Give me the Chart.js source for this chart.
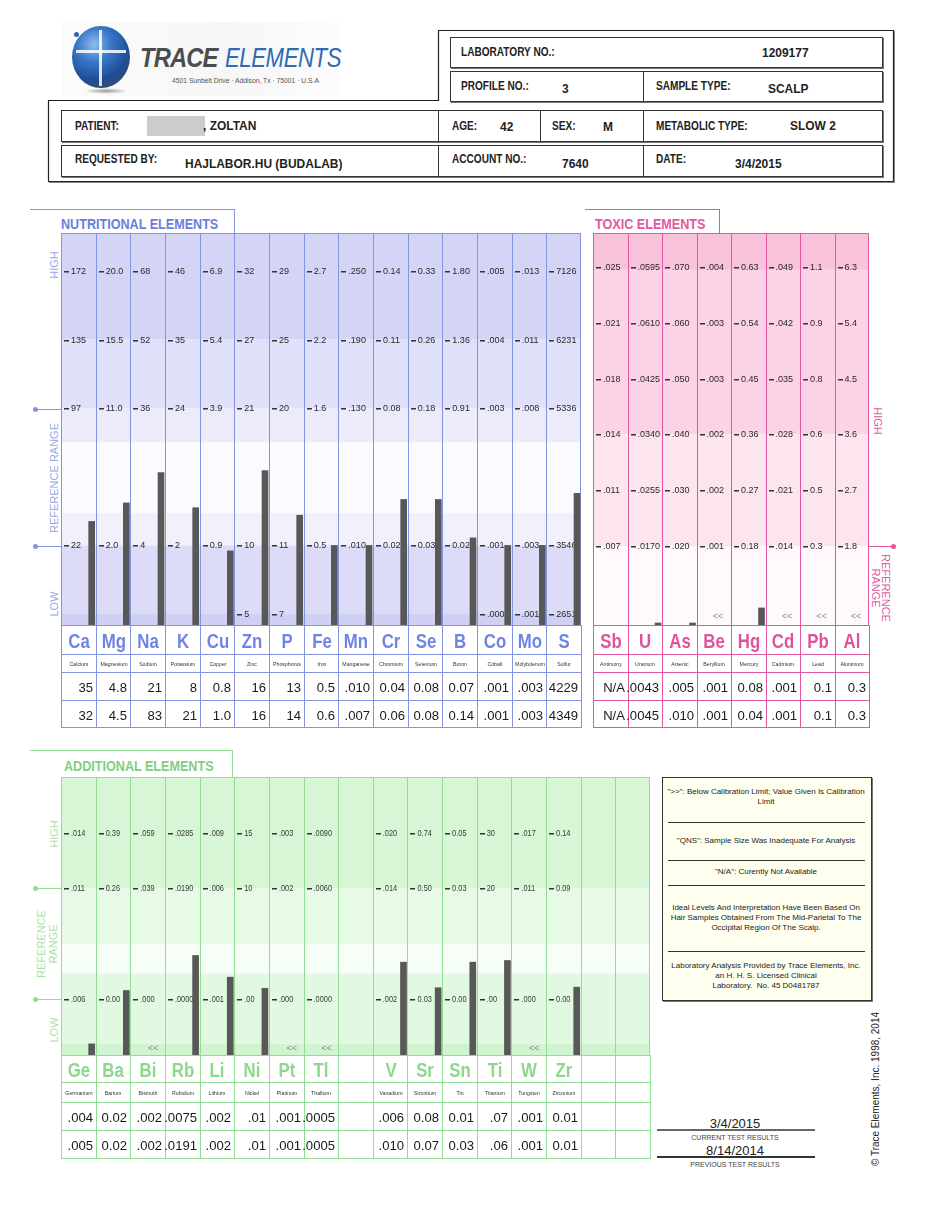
<!DOCTYPE html>
<html><head><meta charset="utf-8">
<script src="https://cdn.jsdelivr.net/npm/chart.js@4.4.1/dist/chart.umd.min.js"></script>
<style>
html,body{margin:0;padding:0;background:#fff}
body{width:946px;height:1224px;position:relative;overflow:hidden;font-family:"Liberation Sans",Arial,Helvetica,sans-serif;color:#222}
.a{position:absolute;white-space:nowrap}
.box{position:absolute;border:1px solid #333;box-shadow:1px 1px 0 #777;background:#fff}
canvas{position:absolute;display:block}
</style></head><body>
<svg class="a" style="left:0;top:0" width="946" height="200">
  <polygon points="48.5,100.5 438.5,100.5 438.5,30.5 893.5,30.5 893.5,181.5 48.5,181.5" fill="none" stroke="#222" stroke-width="1.2"/>
  <polyline points="894.5,31 894.5,182.5 49,182.5" fill="none" stroke="#888" stroke-width="1"/>
</svg>
<canvas id="cNut" width="520" height="392" style="left:61px;top:233px"></canvas>
<canvas id="cTox" width="276" height="392" style="left:593px;top:233px"></canvas>
<canvas id="cAdd" width="589" height="278" style="left:61px;top:777px"></canvas>
<script>
// ---------------- DATA ----------------
const nutriSymbols = ['Ca','Mg','Na','K','Cu','Zn','P','Fe','Mn','Cr','Se','B','Co','Mo','S'];
const nutriNames = ['Calcium','Magnesium','Sodium','Potassium','Copper','Zinc','Phosphorus','Iron','Manganese','Chromium','Selenium','Boron','Cobalt','Molybdenum','Sulfur'];
const nutriCurrent = ['35','4.8','21','8','0.8','16','13','0.5','.010','0.04','0.08','0.07','.001','.003','4229'];
const nutriPrevious = ['32','4.5','83','21','1.0','16','14','0.6','.007','0.06','0.08','0.14','.001','.003','4349'];
const nutriTick5 = ['172','20.0','68','46','6.9','32','29','2.7','.250','0.14','0.33','1.80','.005','.013','7126'];
const nutriTick4 = ['135','15.5','52','35','5.4','27','25','2.2','.190','0.11','0.26','1.36','.004','.011','6231'];
const nutriTick3 = ['97','11.0','36','24','3.9','21','20','1.6','.130','0.08','0.18','0.91','.003','.008','5336'];
const nutriTick1 = ['22','2.0','4','2','0.9','10','11','0.5','.010','0.02','0.03','0.02','.001','.003','3546'];
const nutriTick0 = ['','','','','','5','7','','','','','','.000','.001','2651'];
const nutriBarLevel = [1.35,1.62,2.06,1.55,0.92,2.09,1.44,1.0,1.0,1.67,1.67,1.11,1.0,1.0,1.76];

const toxicSymbols = ['Sb','U','As','Be','Hg','Cd','Pb','Al'];
const toxicNames = ['Antimony','Uranium','Arsenic','Beryllium','Mercury','Cadmium','Lead','Aluminum'];
const toxicCurrent = ['N/A','.0043','.005','.001','0.08','.001','0.1','0.3'];
const toxicPrevious = ['N/A','.0045','.010','.001','0.04','.001','0.1','0.3'];
const toxicTick5 = ['.025','.0595','.070','.004','0.63','.049','1.1','6.3'];
const toxicTick4 = ['.021','.0610','.060','.003','0.54','.042','0.9','5.4'];
const toxicTick3 = ['.018','.0425','.050','.003','0.45','.035','0.8','4.5'];
const toxicTick2 = ['.014','.0340','.040','.002','0.36','.028','0.6','3.6'];
const toxicTick1 = ['.011','.0255','.030','.002','0.27','.021','0.5','2.7'];
const toxicTick0 = ['.007','.0170','.020','.001','0.18','.014','0.3','1.8'];
const toxicBarLevel = [null,-1.38,-1.38,null,-1.11,null,null,null];
const toxicBelowLimit = [false,false,false,true,false,true,true,true];

const addSymbols = ['Ge','Ba','Bi','Rb','Li','Ni','Pt','Tl','','V','Sr','Sn','Ti','W','Zr','',''];
const addNames = ['Germanium','Barium','Bismuth','Rubidium','Lithium','Nickel','Platinum','Thallium','','Vanadium','Strontium','Tin','Titanium','Tungsten','Zirconium','',''];
const addCurrent = ['.004','0.02','.002','.0075','.002','.01','.001','.0005','','.006','0.08','0.01','.07','.001','0.01','',''];
const addPrevious = ['.005','0.02','.002','.0191','.002','.01','.001','.0005','','.010','0.07','0.03','.06','.001','0.01','',''];
const addTick4 = ['.014','0.39','.059','.0285','.009','15','.003','.0090','','.020','0.74','0.05','30','.017','0.14','',''];
const addTick3 = ['.011','0.26','.039','.0190','.006','10','.002','.0060','','.014','0.50','0.03','20','.011','0.09','',''];
const addTick1 = ['.006','0.00','.000','.0000','.001','.00','.000','.0000','','.002','0.03','0.00','.00','.000','0.00','',''];
const addBarLevel = [0.2,1.16,null,1.79,1.4,1.2,null,null,null,1.67,1.21,1.67,1.7,null,1.22,null,null];
const addBelowLimit = [false,false,true,false,false,false,true,true,false,false,false,false,false,true,false,false,false];

// ---------------- HELPERS ----------------
function T(txt,x,y,css,align,sx){
  const d=document.createElement('div');d.className='a';d.textContent=txt;
  d.style.cssText=(css||'');d.style.left=x+'px';d.style.top=y+'px';
  const tx=align==='c'?'-50%':align==='r'?'-100%':'0';
  d.style.transformOrigin=align==='c'?'center center':align==='r'?'right center':'left center';
  d.style.transform='translate('+tx+',-50%) scaleX('+(sx||1)+')';document.body.appendChild(d);return d;}
function H(html,x,y,css){
  const d=document.createElement('div');d.className='a';d.innerHTML=html;
  d.style.cssText=(css||'');d.style.left=x+'px';d.style.top=y+'px';
  d.style.transform='translate(-50%,-50%)';document.body.appendChild(d);return d;}
function R(txt,x,y,deg,css){
  const d=document.createElement('div');d.className='a';d.textContent=txt;
  d.style.cssText=(css||'');d.style.left=x+'px';d.style.top=y+'px';d.style.lineHeight='1';
  d.style.transform='translate(-50%,-50%) rotate('+deg+'deg)';document.body.appendChild(d);return d;}
function L(x,y,w,h,c){const d=document.createElement('div');d.className='a';
  d.style.cssText='left:'+x+'px;top:'+y+'px;width:'+w+'px;height:'+h+'px;background:'+c;document.body.appendChild(d);return d;}
function DOT(x,y,c){const d=document.createElement('div');d.className='a';
  d.style.cssText='left:'+(x-2.5)+'px;top:'+(y-2.5)+'px;width:5px;height:5px;border-radius:50%;background:'+c;document.body.appendChild(d);}
function BOX(x,y,w,h,css){const d=document.createElement('div');d.className='box';
  d.style.cssText+='left:'+x+'px;top:'+y+'px;width:'+w+'px;height:'+h+'px;'+(css||'');document.body.appendChild(d);return d;}

const SANS='"Liberation Sans",Arial,sans-serif';
const HL='font:bold 12px '+SANS+';color:#222';
const HV='font:bold 13px '+SANS+';color:#222';

// ---------------- HEADER ----------------
const bgl=document.createElement('div');bgl.className='a';
bgl.style.cssText='left:62px;top:22px;width:278px;height:74px;background:linear-gradient(90deg,#fcfcfc,#f6f6f6 60%,#fdfdfd)';
document.body.appendChild(bgl);
const lg=document.createElement('div');lg.className='a';
lg.style.cssText='left:72px;top:26px;width:58px;height:62px;border-radius:50%;background:radial-gradient(circle at 38% 30%,#8fbdf0 0%,#3a78c8 30%,#1d4f98 62%,#3b4a66 85%,#8a8a8a 100%)';
document.body.appendChild(lg);
const lg2=document.createElement('div');lg2.className='a';
lg2.style.cssText='left:84px;top:88px;width:44px;height:6px;border-radius:50%;background:radial-gradient(ellipse,#999 0%,rgba(200,200,200,0) 70%)';
document.body.appendChild(lg2);
L(99,30,3,56,'rgba(255,255,255,0.85)');L(76,50,50,3,'rgba(255,255,255,0.85)');
DOT(76,34,'#2a64b0');
T('TRACE',140,58,'font:italic bold 27px '+SANS+';color:#4d4d4d;letter-spacing:-1px','',0.88);
T('ELEMENTS',225,58,'font:italic 27px '+SANS+';color:#2e6bb5;letter-spacing:-0.5px','',0.82);
T('4501 Sunbelt Drive · Addison, Tx · 75001 · U.S.A',172,80,'font:7.5px '+SANS+';color:#555','',0.9);

BOX(450,37,431,29);
BOX(450,71,431,29);L(643,71,1,31,'#333');
BOX(61,110,820,30);L(438,110,1,32,'#333');L(540,110,1,32,'#333');L(643,110,1,32,'#333');
BOX(61,145,820,30);L(438,145,1,32,'#333');L(643,145,1,32,'#333');

T('LABORATORY NO.:',461,52,HL,'',0.84);
T('1209177',762,52,HV,'',0.92);
T('PROFILE NO.:',461,86,HL,'',0.84);
T('3',562,88,HV,'',0.92);
T('SAMPLE TYPE:',656,86,HL,'',0.84);
T('SCALP',768,88,HV,'',0.92);
T('PATIENT:',75,126,HL,'',0.84);
L(147,116,58,20,'#cccccc');
T(', ZOLTAN',203,125,HV,'',0.92);
T('AGE:',452,126,HL,'',0.84);
T('42',500,126,HV,'',0.92);
T('SEX:',552,126,HL,'',0.84);
T('M',603,126,HV,'',0.92);
T('METABOLIC TYPE:',656,126,HL,'',0.84);
T('SLOW 2',790,125,HV,'',0.92);
T('REQUESTED BY:',75,159,HL,'',0.84);
T('HAJLABOR.HU (BUDALAB)',185,163,HV,'',0.92);
T('ACCOUNT NO.:',452,159,HL,'',0.84);
T('7640',562,163,HV,'',0.92);
T('DATE:',656,159,HL,'',0.84);
T('3/4/2015',735,163,HV,'',0.92);

// ---------------- PANEL FRAMES ----------------
const BLUE='#8494e2', BLUE_T='#6b80d8', BLUE_S='#98a7e6';
const PINK='#e2579f', PINK_T='#df5aa0';
const GREEN='#93dc93', GREEN_T='#82cf82', GREEN_S='#a8dfa8';
const SIDE='font:11px '+SANS+';color:';
const TITLE='font:bold 15px '+SANS+';color:';

L(30,209,205,1,BLUE);L(234,209,1,24,BLUE);
T('NUTRITIONAL  ELEMENTS',61,223,TITLE+BLUE_T,'',0.84);
R('HIGH',54,265,-90,SIDE+BLUE_S);
R('REFERENCE  RANGE',54,478,-90,SIDE+BLUE_S);
R('LOW',54,604,-90,SIDE+BLUE_S);
L(35,409,26,1,BLUE);DOT(35,409.5,BLUE);
L(35,546,26,1,BLUE);DOT(35,546.5,BLUE);

L(585,209,135,1,PINK);L(719,209,1,24,PINK);
T('TOXIC  ELEMENTS',595,223,TITLE+PINK_T,'',0.84);
R('HIGH',877,421,90,SIDE+PINK);
R('REFERENCE',885,588,90,SIDE+PINK);
R('RANGE',875,588,90,SIDE+PINK);
L(869,546,24,1,PINK);DOT(893,546.5,PINK);

L(30,750,203,1,GREEN);L(232,750,1,27,GREEN);
T('ADDITIONAL  ELEMENTS',64,765,TITLE+GREEN_T,'',0.84);
R('HIGH',54,834,-90,SIDE+GREEN_S);
R('REFERENCE',41,944,-90,SIDE+GREEN_S);
R('RANGE',53,944,-90,SIDE+GREEN_S);
R('LOW',54,1030,-90,SIDE+GREEN_S);
L(35,888,26,1,GREEN);DOT(35,888.5,GREEN);
L(35,999,26,1,GREEN);DOT(35,999.5,GREEN);

// ---------------- TABLES ----------------
function table(p){
  const n=p.symbols.length, W=p.colW*n, ys=p.rows;
  for(let i=0;i<=n;i++) L(p.left+i*p.colW, ys[0], 1, ys[4]-ys[0]+1, p.line);
  for(let j=0;j<ys.length;j++) L(p.left, ys[j], W+1, 1, p.line);
  for(let i=0;i<n;i++){
    const cx=p.left+(i+0.5)*p.colW, rx=p.left+(i+1)*p.colW-3;
    if(p.symbols[i]) T(p.symbols[i],cx+0.5,(ys[0]+ys[1])/2+1,'font:bold 21px '+SANS+';color:'+p.sym,'c',0.8);
    if(p.names[i]) T(p.names[i],cx+0.5,(ys[1]+ys[2])/2+1,'font:5.5px '+SANS+';color:#333','c',0.95);
    if(p.cur[i]) T(p.cur[i],rx,(ys[2]+ys[3])/2+1,'font:13.5px '+SANS+';color:#1a1a1a','r',0.97);
    if(p.prev[i]) T(p.prev[i],rx,(ys[3]+ys[4])/2+1,'font:13.5px '+SANS+';color:#1a1a1a','r',0.97);
  }
}
table({left:61,colW:520/15,rows:[625,654,672,700,727],line:BLUE,sym:'#6f84e4',symbols:nutriSymbols,names:nutriNames,cur:nutriCurrent,prev:nutriPrevious});
table({left:593,colW:276/8,rows:[625,654,672,700,727],line:PINK,sym:'#e0529c',symbols:toxicSymbols,names:toxicNames,cur:toxicCurrent,prev:toxicPrevious});
table({left:61,colW:589/17,rows:[1055,1082,1102,1130,1158],line:GREEN,sym:'#8fd68f',symbols:addSymbols,names:addNames,cur:addCurrent,prev:addPrevious});

// ---------------- NOTES BOX ----------------
BOX(662,777,208,222,'background:#fffff0');
[822,860,885,951].forEach(y=>L(668,y,197,1,'#333'));
const NF='font:8px '+SANS+';color:#222;text-align:center;line-height:10px';
H('"&gt;&gt;": Below Calibration Limit; Value Given Is Calibration<br>Limit',766,797,NF);
H('"QNS": Sample Size Was Inadequate For Analysis',766,841,NF);
H('"N/A": Curently Not Available',766,872,NF);
H('Ideal Levels And Interpretation Have Been Based On<br>Hair Samples Obtained From The Mid-Parietal To The<br>Occipital Region Of The Scalp.',766,918,NF);
H('Laboratory Analysis Provided by Trace Elements, Inc.<br>an H. H. S. Licensed Clinical<br>Laboratory.&nbsp; No. 45 D0481787',766,976,NF);

// ---------------- BOTTOM RIGHT ----------------
T('3/4/2015',735,1123,'font:13px '+SANS+';color:#222','c');
L(657,1129,158,2,'#666');
T('CURRENT TEST RESULTS',735,1137,'font:7px '+SANS+';color:#444','c');
T('8/14/2014',735,1150,'font:13px '+SANS+';color:#222','c');
L(657,1156,158,2,'#333');
T('PREVIOUS TEST RESULTS',735,1164,'font:7px '+SANS+';color:#444','c');
R('© Trace Elements, Inc. 1998, 2014',876,1089,-90,'font:10px '+SANS+';color:#222');

// ---------------- CHARTS ----------------
function panelChart(id,cfg){
  const n=cfg.n;
  const pts=[];
  cfg.levels.forEach((v,i)=>{ if(v!==null) pts.push({x:i+0.885,y:[cfg.yMin,v]}); });
  const decor={
    id:'decor'+id,
    beforeDatasetsDraw(chart){
      const ctx=chart.ctx,a=chart.chartArea,xs=chart.scales.x,ys=chart.scales.y;
      ctx.save();
      cfg.bands.forEach(b=>{const y1=ys.getPixelForValue(b[0]),y2=ys.getPixelForValue(b[1]);
        ctx.fillStyle=b[2];ctx.fillRect(a.left,Math.min(y1,y2),a.right-a.left,Math.abs(y2-y1));});
      ctx.fillStyle=cfg.line;
      for(let i=0;i<=n;i++){const px=Math.min(Math.round(xs.getPixelForValue(i)),a.right-1);ctx.fillRect(px,a.top,1,a.bottom-a.top);}
      ctx.fillRect(a.left,a.top,a.right-a.left,1);
      ctx.font=cfg.font;ctx.textBaseline='middle';ctx.textAlign='left';
      cfg.ticks.forEach(r=>{const py=Math.round(ys.getPixelForValue(r.level));
        r.labels.forEach((t,i)=>{ if(!t) return; const px=xs.getPixelForValue(i);
          ctx.fillStyle='#333';ctx.fillRect(Math.round(px)+3,py,5,1.5);
          ctx.fillStyle=cfg.textColor;
          ctx.save();ctx.translate(px+10,py+0.5);ctx.scale(cfg.textSx,1);ctx.fillText(t,0,0);ctx.restore();});});
      ctx.font='9px '+SANS;ctx.fillStyle='#8a8a8a';ctx.textAlign='center';
      (cfg.below||[]).forEach((f,i)=>{ if(!f) return; ctx.fillText('<<',xs.getPixelForValue(i+cfg.belowX),ys.getPixelForValue(cfg.belowY)); });
      ctx.restore();
    }
  };
  return new Chart(document.getElementById(id),{
    type:'bar',
    data:{datasets:[{data:pts,backgroundColor:'#585858',borderWidth:0,barThickness:6}]},
    options:{responsive:false,animation:false,devicePixelRatio:1,
      layout:{padding:0},
      plugins:{legend:{display:false},tooltip:{enabled:false}},
      scales:{x:{type:'linear',min:0,max:n,offset:false,display:false},
              y:{type:'linear',min:cfg.yMin,max:cfg.yMax,display:false}}},
    plugins:[decor]
  });
}

panelChart('cNut',{n:15,yMin:-0.16,yMax:5.554,levels:nutriBarLevel,line:BLUE,
  font:'9.5px '+SANS,textColor:'#2a2a2a',textSx:0.95,
  bands:[[5.554,4.0,'#d4d5f6'],[4.0,3.0,'#dfe0f9'],[3.0,2.5,'#ebebfb'],[2.5,1.47,'#fbfbff'],[1.47,1.0,'#f1f1fc'],[1.0,0.0,'#dcdcf8'],[0.0,-0.16,'#cfd0f4']],
  ticks:[{level:5,labels:nutriTick5},{level:4,labels:nutriTick4},{level:3,labels:nutriTick3},{level:1,labels:nutriTick1},{level:0,labels:nutriTick0}]});

panelChart('cTox',{n:8,yMin:-1.416,yMax:5.61,levels:toxicBarLevel,line:PINK,
  font:'9.5px '+SANS,textColor:'#2a2a2a',textSx:0.95,
  bands:[[5.61,4.95,'#f8c2db'],[4.95,2.0,'#fbd2e6'],[2.0,0.0,'#fde5f0'],[0.0,-1.416,'#fff9fc']],
  ticks:[{level:5,labels:toxicTick5},{level:4,labels:toxicTick4},{level:3,labels:toxicTick3},{level:2,labels:toxicTick2},{level:1,labels:toxicTick1},{level:0,labels:toxicTick0}],
  below:toxicBelowLimit,belowX:0.62,belowY:-1.26});

panelChart('cAdd',{n:17,yMin:0,yMax:5.0,levels:addBarLevel,line:GREEN,
  font:'9px '+SANS,textColor:'#3a3a3a',textSx:0.82,
  bands:[[5.0,3.0,'#d6f6d6'],[3.0,2.0,'#e6fae6'],[2.0,1.47,'#f7fef7'],[1.47,0.2,'#e1f8e1'],[0.2,0,'#d0f4d0']],
  ticks:[{level:4,labels:addTick4},{level:3,labels:addTick3},{level:1,labels:addTick1}],
  below:addBelowLimit,belowX:0.66,belowY:0.12});
</script>
</body></html>
